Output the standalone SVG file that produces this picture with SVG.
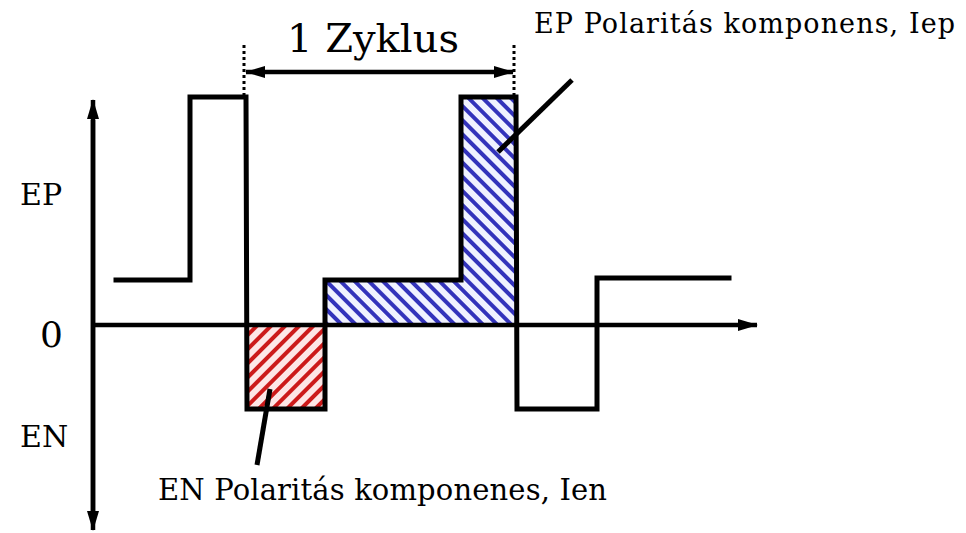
<svg xmlns="http://www.w3.org/2000/svg" width="966" height="533" viewBox="0 0 966 533">
<style>
.wave{fill:none;stroke:#000;stroke-width:5;stroke-linejoin:miter;stroke-linecap:square}
.axis{fill:none;stroke:#000;stroke-width:4.5}
.lead{stroke:#000;stroke-width:5;fill:none}
.dot{stroke:#000;stroke-width:3;stroke-dasharray:3 3;fill:none}
.lbl{font-family:"DejaVu Serif","Liberation Serif",serif;fill:#000}
</style>
<defs>
<pattern id="hr" width="10" height="10" patternUnits="userSpaceOnUse" patternTransform="rotate(45)">
<rect width="10" height="10" fill="#fde6e6"/>
<rect x="0" y="0" width="4" height="10" fill="#cc1a1a"/>
</pattern>
<pattern id="hb" width="10" height="10" patternUnits="userSpaceOnUse" patternTransform="rotate(-45)">
<rect width="10" height="10" fill="#f0f2ff"/>
<rect x="0" y="0" width="4" height="10" fill="#3333bb"/>
</pattern>
<marker id="ah" viewBox="0 0 20 12" refX="19" refY="6" markerWidth="20" markerHeight="12" markerUnits="userSpaceOnUse" orient="auto-start-reverse">
<path d="M0,0 L20,6 L0,12 Z" fill="#000"/>
</marker>
</defs>
<g id="regions">
<rect id="en-region" x="248" y="325" width="77" height="84" fill="url(#hr)"/>
<path id="ep-region" d="M326,280 H461 V97 H516 V325 H326 Z" fill="url(#hb)"/>
</g>
<g id="axes">
<line class="axis" x1="93" y1="520" x2="93" y2="100" marker-end="url(#ah)"/>
<line class="axis" x1="93" y1="120" x2="93" y2="530" marker-end="url(#ah)"/>
<line class="axis" x1="93" y1="325" x2="757" y2="325" marker-end="url(#ah)"/>
</g>
<g id="waveform">
<polyline class="wave" points="116,280 190,280 190,97 246,97 247,409 325,409 325,280 461,280 461,97 516,97 517,409 597,409 597,278 729,278"/>
</g>
<g id="connectors">
<line class="dot" x1="244" y1="45" x2="244" y2="97"/>
<line class="dot" x1="514" y1="45" x2="514" y2="97"/>
<line x1="246" y1="72" x2="513" y2="72" stroke="#000" stroke-width="4.5" marker-start="url(#ah)" marker-end="url(#ah)"/>
<line class="lead" x1="572" y1="80" x2="498" y2="152"/>
<line class="lead" x1="270" y1="389" x2="257" y2="465"/>
</g>
<g id="labels">
<text class="lbl" x="373" y="52" font-size="40" text-anchor="middle">1 Zyklus</text>
<text class="lbl" x="534" y="33" font-size="27" textLength="421">EP Polaritás komponens, Iep</text>
<text class="lbl" x="158" y="500" font-size="29" textLength="449">EN Polaritás komponenes, Ien</text>
<text class="lbl" x="20" y="205" font-size="30">EP</text>
<text class="lbl" x="40" y="347" font-size="36">0</text>
<text class="lbl" x="20" y="447" font-size="30">EN</text>
</g>
</svg>
